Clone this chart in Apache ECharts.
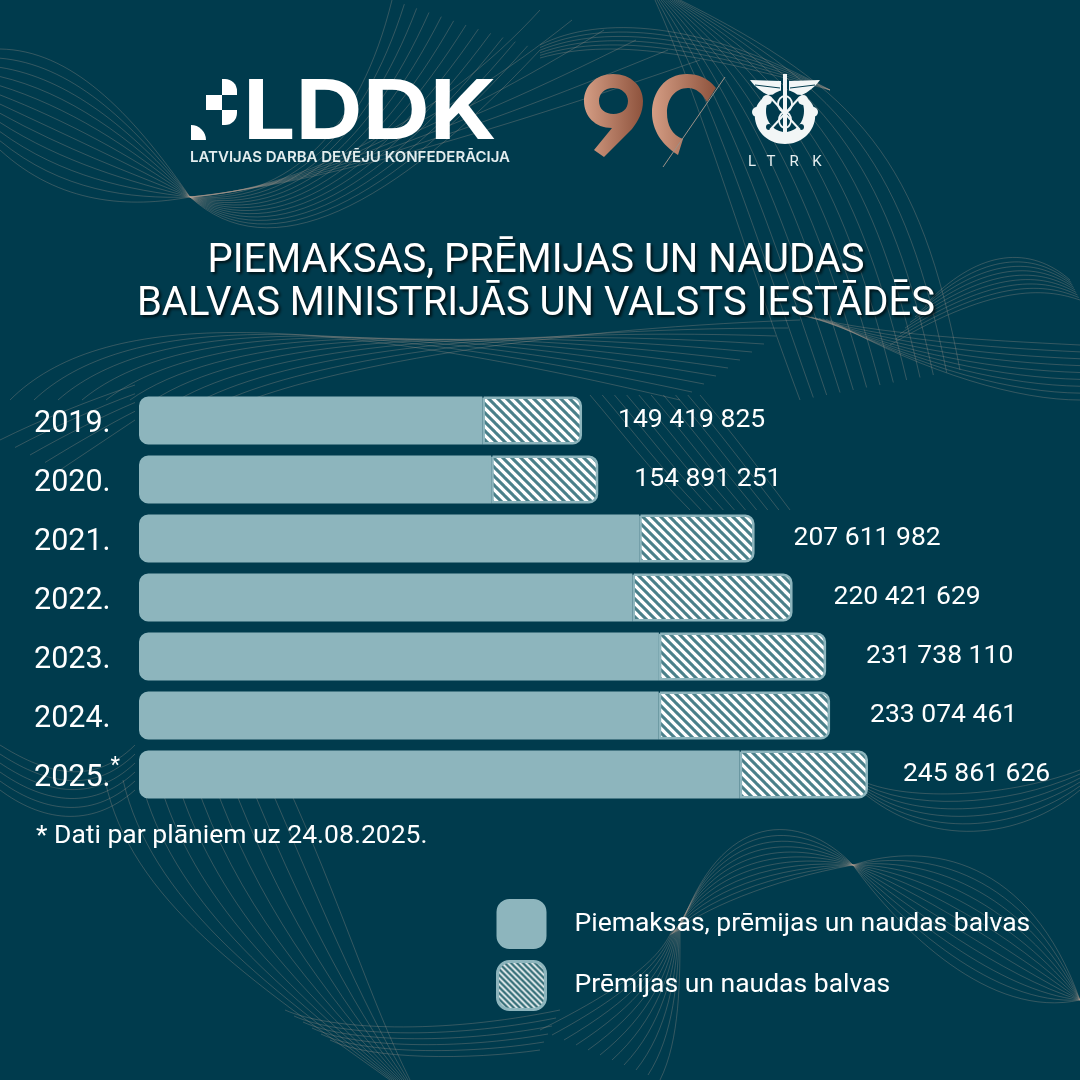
<!DOCTYPE html>
<html>
<head>
<meta charset="utf-8">
<style>
html, body { margin: 0; padding: 0; background: #003b4d; }
#chart { width: 1080px; height: 1080px; }
</style>
<script src="https://cdn.jsdelivr.net/npm/echarts@6/dist/echarts.min.js"></script>
</head>
<body>
<div id="chart"></div>
<script>
var years = ['2019.', '2020.', '2021.', '2022.', '2023.', '2024.', '2025.*'];
var totals = [149419825, 154891251, 207611982, 220421629, 231738110, 233074461, 245861626];
// hatched part
var prizes = [33600000, 36100000, 38900000, 54000000, 56400000, 57800000, 43300000];
var labelGaps = [36, 36, 39, 41, 40, 40, 35];

var solidName = 'Piemaksas, prēmijas un naudas balvas';
var hatchName = 'Prēmijas un naudas balvas';
var titleText = 'PIEMAKSAS, PRĒMIJAS UN NAUDAS\nBALVAS MINISTRIJĀS UN VALSTS IESTĀDĒS';
var noteText = '* Dati par plāniem uz 24.08.2025.';

var BG = '#003b4d', BAR = '#8db5bd', FONT = 'Roboto';

var chart = echarts.init(document.getElementById('chart'));

function hatch(size, dark, weight) {
    var c = document.createElement('canvas');
    c.width = c.height = size;
    var g = c.getContext('2d');
    g.fillStyle = '#ffffff';
    g.fillRect(0, 0, size, size);
    g.strokeStyle = dark;
    g.lineWidth = size * weight;
    for (var i = -1; i <= 1; i++) {
        g.beginPath();
        g.moveTo(i * size - 1, -1);
        g.lineTo(i * size + size + 1, size + 1);
        g.stroke();
    }
    return { image: c, repeat: 'repeat' };
}

// graphic has no plain svg path type, so register the logo outlines as shapes
function svgShape(name, d, style) {
    echarts.graphic.registerShape(name, echarts.graphic.extendPath(d, {}));
    return { type: name, style: style };
}

// background line ribbons: n curves blended between two beziers
function ribbon(a, b, n) {
    var out = [];
    for (var i = 0; i < n; i++) {
        var t = i / (n - 1), p = a.map(function (v, k) { return v + (b[k] - v) * t; });
        out.push({
            type: 'bezierCurve', silent: true, z: 0,
            shape: { x1: p[0], y1: p[1], cpx1: p[2], cpy1: p[3], cpx2: p[4], cpy2: p[5], x2: p[6], y2: p[7] },
            style: { stroke: 'rgba(186,160,145,0.36)', lineWidth: 0.8, fill: null }
        });
    }
    return out;
}

var lines = [].concat(
    // left lobe and its knot
    ribbon([0, 49, 70, 50, 130, 110, 190, 197], [0, 150, 60, 205, 130, 208, 190, 197], 12),
    ribbon([190, 197, 290, 200, 360, 130, 392, 0], [190, 197, 270, 270, 390, 210, 540, 50], 13),
    ribbon([190, 197, 300, 190, 440, 120, 540, 10], [190, 197, 300, 185, 440, 150, 700, 60], 6),
    // top right sweep
    ribbon([540, 45, 600, 15, 700, 20, 830, 90], [540, 58, 620, 35, 720, 60, 830, 90], 6),
    ribbon([655, 0, 700, 100, 740, 240, 800, 400], [680, 0, 860, 90, 920, 160, 960, 370], 13),
    // right edge
    ribbon([1070, 280, 1030, 245, 980, 250, 930, 300], [1080, 300, 1050, 290, 1000, 280, 890, 345], 9),
    ribbon([800, 315, 880, 335, 980, 340, 1080, 345], [830, 320, 930, 375, 1020, 400, 1080, 400], 9),
    // lower left of title, running across under it
    ribbon([10, 400, 100, 310, 300, 310, 680, 400], [250, 400, 330, 370, 520, 330, 800, 320], 11),
    ribbon([0, 440, 40, 420, 90, 400, 135, 385], [60, 470, 90, 450, 120, 430, 135, 420], 5),
    // next to the top value labels
    ribbon([590, 395, 620, 430, 650, 470, 690, 510], [700, 395, 730, 430, 760, 470, 790, 510], 10),
    // left of the bars, behind them and below
    ribbon([0, 745, 40, 770, 90, 790, 135, 745], [0, 790, 40, 820, 90, 830, 135, 790], 6),
    ribbon([105, 780, 130, 900, 250, 980, 390, 1080], [285, 780, 340, 900, 370, 1000, 410, 1080], 11),
    ribbon([285, 1010, 330, 1030, 440, 1035, 560, 1010], [330, 1040, 370, 1060, 470, 1060, 540, 1050], 6),
    // bottom knot with lobes
    ribbon([853, 865, 800, 810, 720, 810, 680, 930], [853, 865, 770, 880, 700, 910, 670, 935], 11),
    ribbon([672, 930, 660, 960, 620, 990, 540, 1030], [680, 930, 680, 980, 680, 1040, 660, 1080], 11),
    ribbon([853, 865, 930, 840, 1030, 860, 1080, 1000], [853, 865, 900, 930, 990, 1020, 1080, 1000], 12),
    // under the value labels
    ribbon([860, 780, 900, 800, 1000, 800, 1080, 770], [860, 790, 930, 850, 1020, 840, 1080, 790], 6)
);

var W = '#f2f6f6';
var emblemWhite = { fill: W };
var bgLine = { stroke: BG, lineWidth: 1 };
var emblem = [
    svgShape('wingL', 'M750 80 L781 81 L781 94 L768 95 C762 92 755 87 750 80 Z', emblemWhite),
    svgShape('wingR', 'M820 80 L789 81 L789 94 L802 95 C808 92 815 87 820 80 Z', emblemWhite),
    svgShape('shield', 'M785 144 C769 144 757 133 755 119 C754 110 757 103 763 98 L769 98 C768 99 807 99 801 98 L807 98 C813 103 816 110 815 119 C813 133 801 144 785 144 Z', emblemWhite),
    { type: 'ellipse', shape: { cx: 785, cy: 111, rx: 19, ry: 21 }, style: { fill: BG } },
    { type: 'line', shape: { x1: 755, y1: 85, x2: 780, y2: 88 }, style: bgLine },
    { type: 'line', shape: { x1: 815, y1: 85, x2: 790, y2: 88 }, style: bgLine },
    { type: 'circle', shape: { cx: 757, cy: 112, r: 5 }, style: emblemWhite },
    { type: 'circle', shape: { cx: 813, cy: 112, r: 5 }, style: emblemWhite },
    { type: 'circle', shape: { cx: 767, cy: 100, r: 5 }, style: emblemWhite },
    { type: 'circle', shape: { cx: 803, cy: 100, r: 5 }, style: emblemWhite },
    { type: 'circle', shape: { cx: 769, cy: 127, r: 3 }, style: { fill: BG } },
    { type: 'circle', shape: { cx: 801, cy: 127, r: 3 }, style: { fill: BG } },
    { type: 'line', shape: { x1: 770, y1: 130, x2: 800, y2: 97 }, style: { stroke: W, lineWidth: 2 } },
    { type: 'line', shape: { x1: 800, y1: 130, x2: 770, y2: 97 }, style: { stroke: W, lineWidth: 2 } },
    { type: 'rect', shape: { x: 783, y: 74, width: 4, height: 68 }, style: emblemWhite },
    { type: 'ellipse', shape: { cx: 785, cy: 104, rx: 7, ry: 8 }, style: { fill: null, stroke: W, lineWidth: 1.8 } },
    { type: 'ellipse', shape: { cx: 785, cy: 120, rx: 6, ry: 8 }, style: { fill: null, stroke: W, lineWidth: 1.8 } }
];
['L', 'T', 'R', 'K'].forEach(function (s, i) {
    emblem.push({ type: 'text', x: [752, 771, 794, 817][i], y: 162, style: {
        text: s, fill: '#e8f0f1', font: '15px ' + FONT, align: 'center', verticalAlign: 'middle' } });
});

var copper = { type: 'linear', x: 0, y: 0, x2: 1, y2: 0, colorStops: [
    { offset: 0, color: '#d49d84' }, { offset: 1, color: '#8e533d' }] };

var logos = [
    { type: 'rect', shape: { x: 222, y: 79, width: 15, height: 16, r: [0, 12, 0, 0] }, style: { fill: '#fff' } },
    { type: 'rect', shape: { x: 206, y: 95, width: 16, height: 15 }, style: { fill: '#fff' } },
    { type: 'rect', shape: { x: 222, y: 110, width: 15, height: 15, r: [0, 0, 12, 0] }, style: { fill: '#fff' } },
    { type: 'rect', shape: { x: 191, y: 125, width: 15, height: 15, r: [0, 15, 0, 0] }, style: { fill: '#fff' } },
    { type: 'text', x: 243, y: 114, scaleX: 1.12, style: {
        text: 'LDDK', fill: '#fff', font: '700 83px Inter', align: 'left', verticalAlign: 'middle' } },
    { type: 'text', x: 190, y: 157, style: {
        text: 'LATVIJAS DARBA DEVĒJU KONFEDERĀCIJA', fill: '#e3edee', font: '600 15px Inter', align: 'left', verticalAlign: 'middle' } },
    svgShape('nine', 'M613 74 C631 74 643 86 643 101 C643 113 638 121 632 129 L604 157 L594 150 L612 128 C595 128 584 116 584 101 C584 86 596 74 613 74 Z M613.5 88 C604 88 599 94 599 101 C599 109 605 114 613.5 114 C622 114 628 109 628 101 C628 94 622 88 613.5 88 Z', { fill: copper }),
    svgShape('zero', 'M716 88 C708 78 698 74 687 74 C665 74 652 92 652 113 C652 130 662 145 678 155 L683 139 C672 135 667 125 667 113 C667 99 675 88 688 88 C696 88 702 93 707 102 Z', { fill: copper }),
    { type: 'line', shape: { x1: 725, y1: 77, x2: 663, y2: 167 }, style: { stroke: '#9d9188', lineWidth: 1 } }
];

var note = {
    type: 'text', x: 36, y: 836, z: 5,
    style: { text: noteText, fill: '#fff', font: '26.5px ' + FONT, align: 'left', verticalAlign: 'middle' }
};

chart.setOption({
    backgroundColor: BG,
    animation: false,
    textStyle: { fontFamily: FONT },
    title: {
        text: titleText,
        left: 531,
        top: 235,
        textAlign: 'center',
        textStyle: {
            color: '#fff', fontFamily: FONT, fontWeight: 400, fontSize: 40, lineHeight: 43,
            textShadowColor: 'rgba(0,0,0,0.75)', textShadowBlur: 3, textShadowOffsetX: 2, textShadowOffsetY: 2
        }
    },
    legend: {
        orient: 'vertical',
        left: 496,
        top: 899,
        padding: 0,
        itemWidth: 48,
        itemHeight: 48,
        itemGap: 11,
        selectedMode: false,
        icon: 'roundRect',
        textStyle: { color: '#fff', fontSize: 26.5, fontFamily: FONT, padding: [3, 0, 0, 24] },
        data: [
            { name: solidName },
            { name: hatchName, itemStyle: { color: hatch(6, '#2f6a74', 0.42), borderColor: BAR, borderWidth: 3 } }
        ]
    },
    grid: { left: 139, top: 391, width: 889.5, height: 413 },
    xAxis: { type: 'value', min: 0, max: 300000000, show: false },
    yAxis: {
        type: 'category',
        inverse: true,
        data: years,
        axisLine: { show: false },
        axisTick: { show: false },
        axisLabel: {
            margin: 105,
            align: 'left',
            formatter: function (v) {
                return v.indexOf('*') > 0 ? '{y|' + v.replace('*', '') + '}{s|*}' : '{y|' + v + '}';
            },
            rich: {
                y: { color: '#fff', fontSize: 30.5, fontFamily: FONT, padding: [8, 0, 0, 0] },
                s: { color: '#fff', fontSize: 22, fontFamily: FONT, padding: [0, 0, 16, 0] }
            }
        }
    },
    series: [
        {
            name: solidName,
            type: 'bar',
            stack: 'total',
            barWidth: 48,
            itemStyle: { color: BAR, borderColor: BAR, borderWidth: 2.5, borderRadius: [8, 0, 0, 8] },
            data: totals.map(function (t, i) { return t - prizes[i]; })
        },
        {
            name: hatchName,
            type: 'bar',
            stack: 'total',
            barWidth: 48,
            itemStyle: { color: hatch(9, '#4a808a', 0.34), borderColor: BAR, borderWidth: 2.5, borderRadius: [0, 8, 8, 0] },
            label: {
                show: true,
                position: 'right',
                offset: [0, 0],
                color: '#fff',
                fontSize: 26.5,
                fontFamily: FONT,
                formatter: function (p) {
                    return String(totals[p.dataIndex]).replace(/\B(?=(\d{3})+$)/g, ' ');
                }
            },
            data: prizes.map(function (v, i) {
                return { value: v, label: { distance: labelGaps[i] } };
            })
        }
    ],
    graphic: lines.concat(logos, emblem, [note])
});
</script>
</body>
</html>
